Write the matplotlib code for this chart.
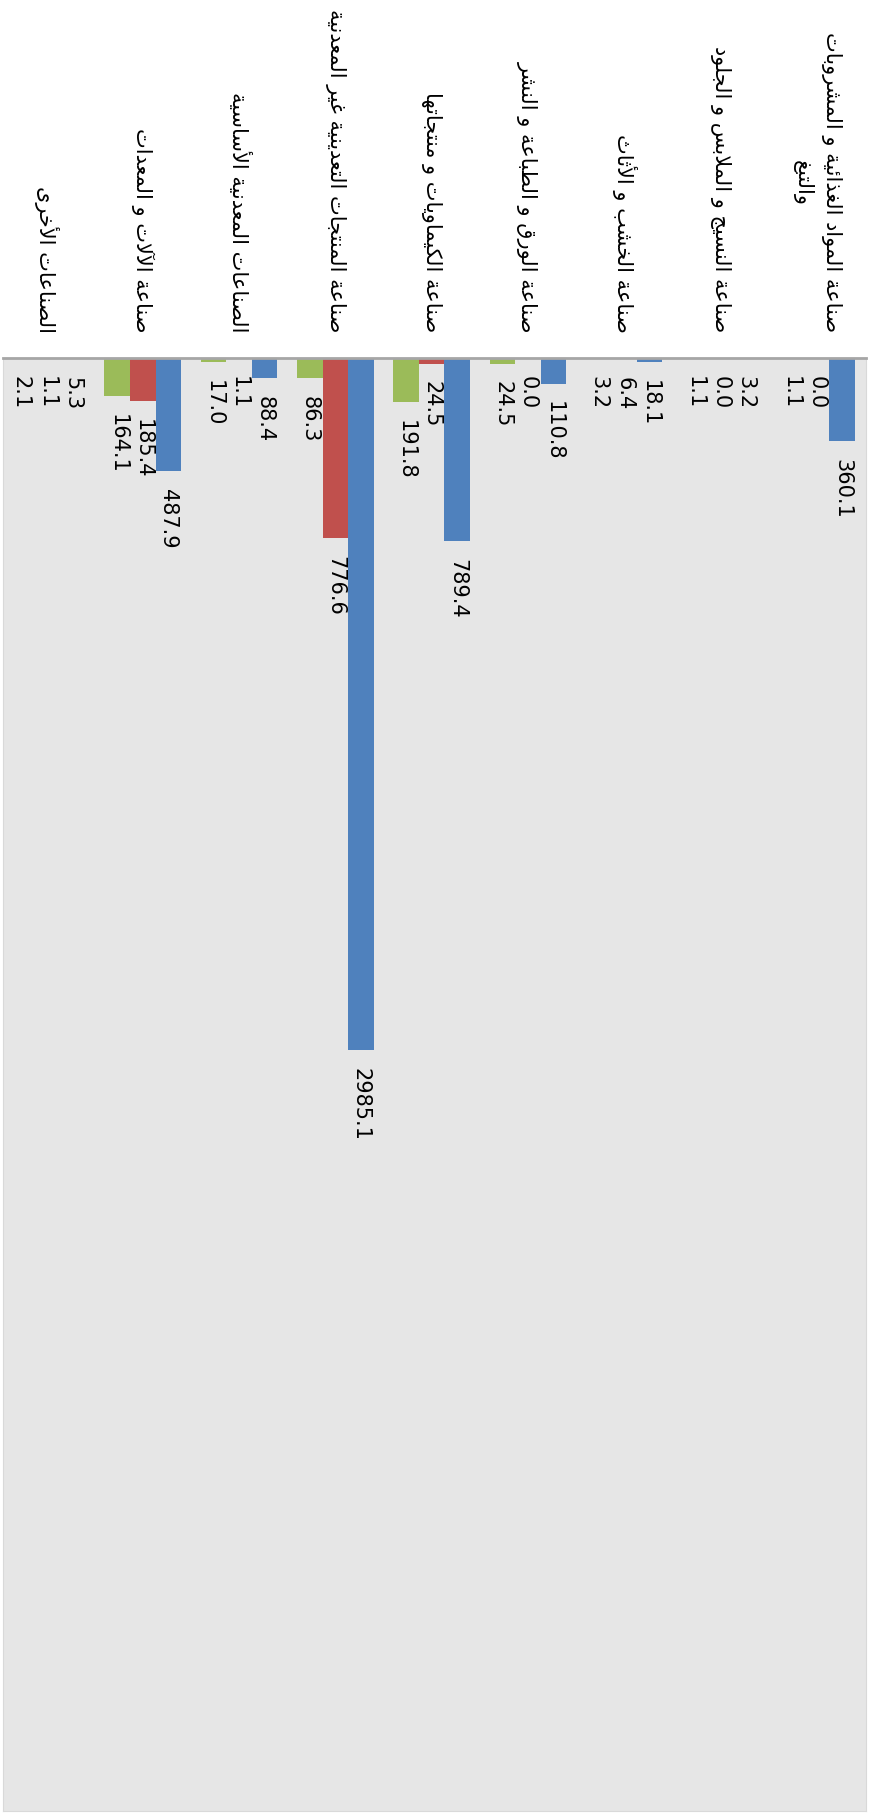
import numpy as np
import matplotlib
matplotlib.use('Agg')
import matplotlib.pyplot as plt

# chart data (top-to-bottom order of the original horizontal chart)
categories = ["صناعة المواد الغذائية و المشروبات\nوالتبغ",
              "صناعة النسيج و الملابس و الجلود",
              "صناعة الخشب و الأثاث",
              "صناعة الورق و الطباعة و النشر",
              "صناعة الكيماويات و منتجاتها",
              "صناعة المنتجات التعدينية غير المعدنية",
              "الصناعات المعدنية الأساسية",
              "صناعة الآلات و المعدات",
              "الصناعات الأخرى"]
blue_vals = [360.1, 3.2, 18.1, 110.8, 789.4, 2985.1, 88.4, 487.9, 5.3]
red_vals = [0.0, 0.0, 6.4, 0.0, 24.5, 776.6, 1.1, 185.4, 1.1]
green_vals = [1.1, 1.1, 3.2, 24.5, 191.8, 86.3, 17.0, 164.1, 2.1]

# minimal arabic shaping: char -> (first presentation form, number of forms)
AR = {'ء': (0xFE80, 1), 'آ': (0xFE81, 2), 'أ': (0xFE83, 2), 'ؤ': (0xFE85, 2),
      'إ': (0xFE87, 2), 'ئ': (0xFE89, 4), 'ا': (0xFE8D, 2), 'ب': (0xFE8F, 4),
      'ة': (0xFE93, 2), 'ت': (0xFE95, 4), 'ث': (0xFE99, 4), 'ج': (0xFE9D, 4),
      'ح': (0xFEA1, 4), 'خ': (0xFEA5, 4), 'د': (0xFEA9, 2), 'ذ': (0xFEAB, 2),
      'ر': (0xFEAD, 2), 'ز': (0xFEAF, 2), 'س': (0xFEB1, 4), 'ش': (0xFEB5, 4),
      'ص': (0xFEB9, 4), 'ض': (0xFEBD, 4), 'ط': (0xFEC1, 4), 'ظ': (0xFEC5, 4),
      'ع': (0xFEC9, 4), 'غ': (0xFECD, 4), 'ف': (0xFED1, 4), 'ق': (0xFED5, 4),
      'ك': (0xFED9, 4), 'ل': (0xFEDD, 4), 'م': (0xFEE1, 4), 'ن': (0xFEE5, 4),
      'ه': (0xFEE9, 4), 'و': (0xFEED, 2), 'ى': (0xFEEF, 2), 'ي': (0xFEF1, 4)}
LAMALEF = {'آ': 0xFEF5, 'أ': 0xFEF7, 'إ': 0xFEF9, 'ا': 0xFEFB}


def shape_line(s):
    out = []
    i = 0
    while i < len(s):
        c = s[i]
        if c not in AR:
            out.append(c)
            i += 1
            continue
        prev = s[i-1] if i > 0 else ' '
        join_prev = prev in AR and AR[prev][1] == 4
        if c == 'ل' and i + 1 < len(s) and s[i+1] in LAMALEF:
            out.append(chr(LAMALEF[s[i+1]] + (1 if join_prev else 0)))
            i += 2
            continue
        nxt = s[i+1] if i + 1 < len(s) else ' '
        base, n = AR[c]
        join_next = n == 4 and nxt in AR
        if join_prev and join_next:
            code = base + 3
        elif join_next:
            code = base + 2
        elif join_prev and n > 1:
            code = base + 1
        else:
            code = base
        out.append(chr(code))
        i += 1
    return ''.join(out)[::-1]


def shape(txt):
    return '\n'.join(shape_line(l) for l in txt.split('\n'))


W, H = 872, 1815
fig = plt.figure(figsize=(W/100, H/100), dpi=100)
top_px, bot_px = 359, 1812
ax = fig.add_axes([3/W, (H-bot_px)/H, 863/W, (bot_px-top_px)/H])
ax.set_facecolor('#E6E6E6')

x = np.arange(len(categories))
w = 0.265
rb = ax.bar(x - w, blue_vals, w, color='#4F81BD')
rr = ax.bar(x, red_vals, w, color='#C0504D')
rg = ax.bar(x + w, green_vals, w, color='#9BBB59')

ax.set_ylim((bot_px-top_px)/0.2318, 0)
ax.set_xlim(8.452, -0.514)
ax.set_xticks([])
ax.set_yticks([])
for sp in ['left', 'right', 'bottom']:
    ax.spines[sp].set_color('#D9D9D9')
ax.spines['top'].set_color('#A6A6A6')
ax.spines['top'].set_linewidth(2)


def autolabel(rects, vals):
    for rect, v in zip(rects, vals):
        ax.annotate('%.1f' % v, xy=(rect.get_x() + rect.get_width()/2., v),
                    xytext=(0, -12), textcoords='offset points',
                    rotation=-90, ha='center', va='top', fontsize=15)


autolabel(rb, blue_vals)
autolabel(rr, red_vals)
autolabel(rg, green_vals)

for xi, cat in zip(x, categories):
    ax.annotate(shape(cat), xy=(xi, 1), xycoords=('data', 'axes fraction'),
                xytext=(0, 19), textcoords='offset points', rotation=-90,
                ha='center', va='bottom', multialignment='center',
                fontsize=15, family='DejaVu Sans', linespacing=1.5,
                annotation_clip=False)

fig.savefig('out.png', dpi=100)
